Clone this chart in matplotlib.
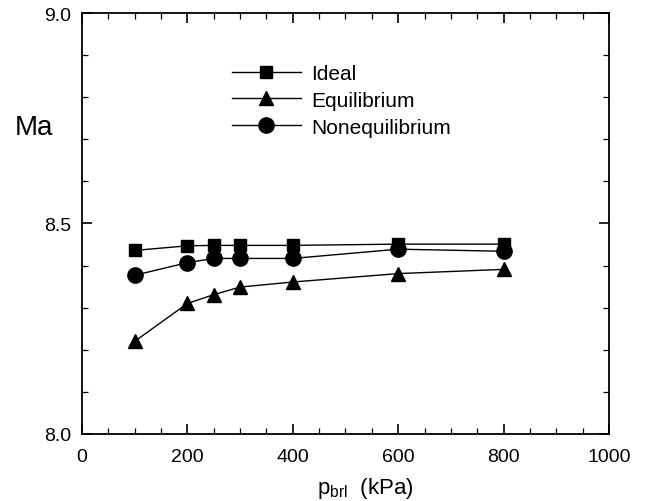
import matplotlib.pyplot as plt
from matplotlib.ticker import MultipleLocator

plt.rcParams['font.family'] = ['Liberation Sans', 'DejaVu Sans']

# --- data ---
p_brl = [100, 200, 250, 300, 400, 600, 800]
ma_ideal = [8.436, 8.447, 8.448, 8.448, 8.448, 8.451, 8.451]
ma_equil = [8.220, 8.310, 8.331, 8.349, 8.361, 8.381, 8.391]
ma_noneq = [8.377, 8.407, 8.417, 8.417, 8.417, 8.439, 8.434]

fig = plt.figure(figsize=(6.49, 5.02), dpi=100)
ax = fig.add_axes([0.1263, 0.1335, 0.8120, 0.8386])

ax.plot(p_brl, ma_ideal, '-s', color='black', lw=1.0, ms=8, label='Ideal')
ax.plot(p_brl, ma_equil, '-^', color='black', lw=1.0, ms=10, label='Equilibrium')
ax.plot(p_brl, ma_noneq, '-o', color='black', lw=1.0, ms=11, label='Nonequilibrium')

ax.set_xlim(0, 1000)
ax.set_ylim(8.0, 9.0)
ax.xaxis.set_major_locator(MultipleLocator(200))
ax.xaxis.set_minor_locator(MultipleLocator(50))
ax.yaxis.set_major_locator(MultipleLocator(0.5))
ax.yaxis.set_minor_locator(MultipleLocator(0.1))
ax.tick_params(which='both', direction='in', top=True, right=True, labelsize=14)
ax.tick_params(which='major', length=7, width=1.2)
ax.tick_params(which='minor', length=4, width=0.9)
ax.tick_params(axis='x', which='major', pad=10)
ax.tick_params(axis='y', which='major', pad=8)
ax.yaxis.set_major_formatter(plt.FormatStrFormatter('%.1f'))
for s in ax.spines.values():
    s.set_linewidth(1.3)

ax.set_xlabel('p$_{\\mathregular{brl}}$  (kPa)', fontsize=16)
ax.xaxis.set_label_coords(0.537, -0.098)
ax.set_ylabel('Ma', fontsize=20, rotation=0, va='center')
ax.yaxis.set_label_coords(-0.091, 0.729)

ax.legend(loc='upper left', bbox_to_anchor=(0.269, 0.899), borderaxespad=0,
          frameon=False, fontsize=15, handlelength=3.3, labelspacing=0.38,
          handletextpad=0.5)

fig.savefig('out.png', dpi=100)
